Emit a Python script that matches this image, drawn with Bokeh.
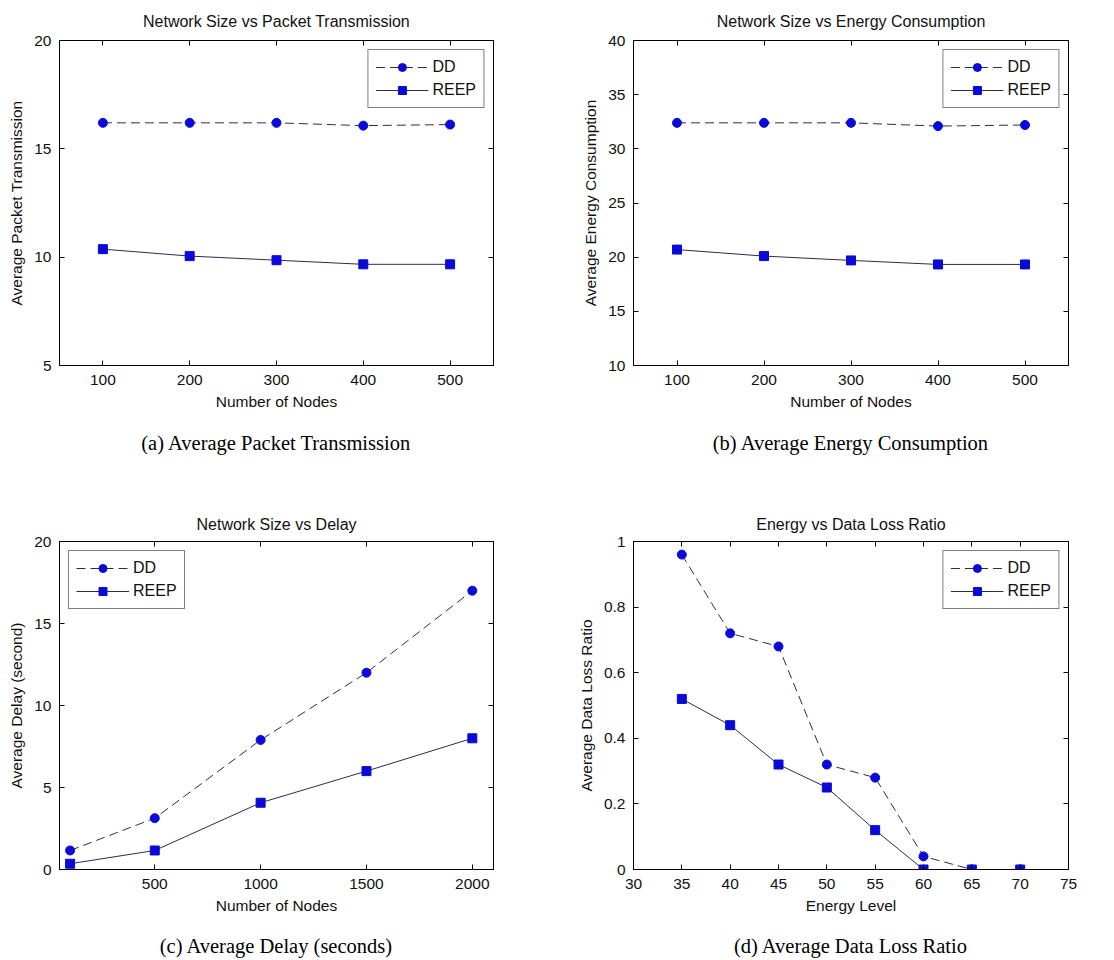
from bokeh.plotting import figure
from bokeh.layouts import row, column
from bokeh.models import LinearAxis, FixedTicker, Range1d
from bokeh.embed import file_html
from bokeh.resources import INLINE

# ---------------- data ----------------
nodes = [100, 200, 300, 400, 500]
pt_dd = [16.2, 16.2, 16.2, 16.07, 16.12]
pt_reep = [10.37, 10.05, 9.86, 9.67, 9.67]

ec_dd = [32.4, 32.4, 32.4, 32.1, 32.2]
ec_reep = [20.7, 20.1, 19.7, 19.33, 19.33]

delay_nodes = [100, 500, 1000, 1500, 2000]
delay_dd = [1.16, 3.13, 7.9, 12.0, 17.0]
delay_reep = [0.35, 1.16, 4.07, 6.0, 8.0]

energy = [35, 40, 45, 50, 55, 60, 65, 70]
loss_dd = [0.96, 0.72, 0.68, 0.32, 0.28, 0.04, 0.0, 0.0]
loss_reep = [0.52, 0.44, 0.32, 0.25, 0.12, 0.0, 0.0, 0.0]

series_names = ["DD", "REEP"]

titles = ["Network Size vs Packet Transmission", "Network Size vs Energy Consumption",
          "Network Size vs Delay", "Energy vs Data Loss Ratio"]
xlabels = ["Number of Nodes", "Number of Nodes", "Number of Nodes", "Energy Level"]
ylabels = ["Average Packet Transmission", "Average Energy Consumption",
           "Average Delay (second)", "Average Data Loss Ratio"]
captions = ["(a) Average Packet Transmission", "(b) Average Energy Consumption",
            "(c) Average Delay (seconds)", "(d) Average Data Loss Ratio"]

xticks_nodes = [100, 200, 300, 400, 500]
xticks_delay = [500, 1000, 1500, 2000]
xticks_energy = [30, 35, 40, 45, 50, 55, 60, 65, 70, 75]
yticks_pt = [5, 10, 15, 20]
yticks_ec = [10, 15, 20, 25, 30, 35, 40]
yticks_delay = [0, 5, 10, 15, 20]
yticks_loss = [0, 0.2, 0.4, 0.6, 0.8, 1.0]

LINE = "#2b2b55"
MARK = "#0a0ad8"
SANS = "Liberation Sans"
SERIF = "Liberation Serif"


def panel(width, height, borders, xr, yr, xt, yt, title, xlabel, ylabel, caption,
          xs, dd, reep, legend_loc, title_standoff, cap_standoff, y_overrides=None):
    bl, br, bt, bb = borders
    p = figure(width=width, height=height, x_range=Range1d(*xr), y_range=Range1d(*yr),
               output_backend="svg", toolbar_location=None,
               min_border_left=bl, min_border_right=br, min_border_top=bt, min_border_bottom=bb)
    p.background_fill_color = "white"
    p.border_fill_color = "white"
    p.outline_line_color = "black"
    p.outline_line_width = 1
    p.xgrid.visible = False
    p.ygrid.visible = False

    p.title.text = title
    p.title.align = "center"
    p.title.text_font = SANS
    p.title.text_font_size = "16px"
    p.title.text_font_style = "normal"
    p.title.text_color = "#111111"
    p.title.standoff = title_standoff

    for ax, ticks, lab in ((p.xaxis[0], xt, xlabel), (p.yaxis[0], yt, ylabel)):
        ax.ticker = FixedTicker(ticks=ticks)
        ax.axis_label = lab
        ax.axis_label_text_font = SANS
        ax.axis_label_text_font_size = "15.5px"
        ax.axis_label_text_font_style = "normal"
        ax.axis_label_text_color = "#111111"
        ax.major_label_text_font = SANS
        ax.major_label_text_font_size = "15.5px"
        ax.major_label_text_color = "#111111"
        ax.major_tick_in = 5
        ax.major_tick_out = 0
        ax.minor_tick_line_color = None
        ax.axis_line_color = "black"
        ax.major_tick_line_color = "black"
    p.xaxis[0].major_label_standoff = 9
    p.xaxis[0].axis_label_standoff = 5
    p.yaxis[0].major_label_standoff = 8
    p.yaxis[0].axis_label_standoff = 6
    if y_overrides:
        p.yaxis[0].major_label_overrides = y_overrides

    # box ticks on top and right
    top = LinearAxis(ticker=FixedTicker(ticks=xt), major_label_text_font_size="0px",
                     major_label_standoff=0, major_tick_in=5, major_tick_out=0,
                     minor_tick_line_color=None, axis_line_color="black")
    right = LinearAxis(ticker=FixedTicker(ticks=yt), major_label_text_font_size="0px",
                       major_label_standoff=0, major_tick_in=5, major_tick_out=0,
                       minor_tick_line_color=None, axis_line_color="black")
    p.add_layout(top, "above")
    p.add_layout(right, "right")

    # sub-figure caption, drawn as the label of a bare axis under the x axis
    cap = LinearAxis(ticker=FixedTicker(ticks=[]), major_label_text_font_size="0px",
                     major_label_standoff=0, major_tick_in=0, major_tick_out=0,
                     minor_tick_line_color=None, axis_line_color=None,
                     major_tick_line_color=None, axis_label=caption,
                     axis_label_text_font=SERIF, axis_label_text_font_size="20.5px",
                     axis_label_text_font_style="normal", axis_label_text_color="black",
                     axis_label_standoff=cap_standoff)
    p.add_layout(cap, "below")

    p.line(xs, dd, line_color=LINE, line_width=1, line_dash="9 5", legend_label=series_names[0])
    p.scatter(xs, dd, marker="circle", size=9, fill_color=MARK, line_color=MARK,
              legend_label=series_names[0])
    p.line(xs, reep, line_color=LINE, line_width=1, legend_label=series_names[1])
    p.scatter(xs, reep, marker="square", size=9, fill_color=MARK, line_color=MARK,
              legend_label=series_names[1])

    lg = p.legend[0]
    lg.location = legend_loc
    lg.margin = 9
    lg.padding = 7
    lg.spacing = 3
    lg.glyph_width = 53
    lg.glyph_height = 20
    lg.label_height = 20
    lg.label_standoff = 4
    lg.label_text_font = SANS
    lg.label_text_font_size = "16px"
    lg.label_text_color = "#111111"
    lg.border_line_color = "black"
    lg.border_line_width = 1
    lg.background_fill_alpha = 1
    return p


pa = panel(563, 460, (59, 70, 39, 95), (50, 550), (5, 20), xticks_nodes, yticks_pt,
           titles[0], xlabels[0], ylabels[0], captions[0], nodes, pt_dd, pt_reep,
           "top_right", 21, 19)
pb = panel(543, 460, (70, 38, 39, 95), (50, 550), (10, 40), xticks_nodes, yticks_ec,
           titles[1], xlabels[1], ylabels[1], captions[1], nodes, ec_dd, ec_reep,
           "top_right", 21, 19)
pc = panel(563, 500, (59, 70, 81, 91), (50, 2100), (0, 20), xticks_delay, yticks_delay,
           titles[2], xlabels[2], ylabels[2], captions[2], delay_nodes, delay_dd, delay_reep,
           "top_left", 18, 18)
pd = panel(543, 500, (70, 38, 81, 91), (30, 75), (0, 1), xticks_energy, yticks_loss,
           titles[3], xlabels[3], ylabels[3], captions[3], energy, loss_dd, loss_reep,
           "top_right", 18, 18, y_overrides={0: "0", 1: "1"})

layout = column(row(pa, pb), row(pc, pd))
open("out.html", "w").write(file_html(layout, INLINE))
